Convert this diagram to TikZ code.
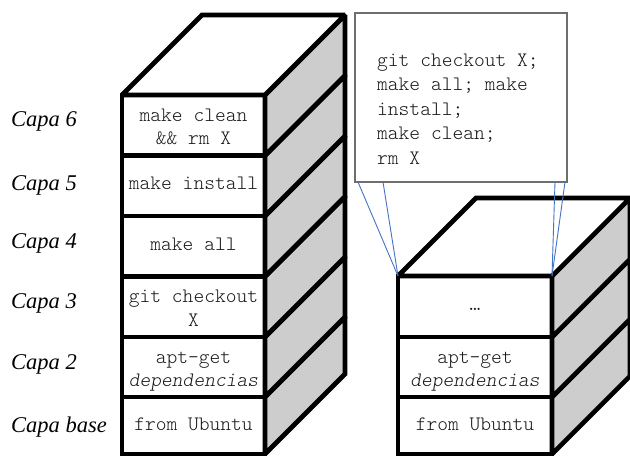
\documentclass[tikz,border=0pt]{standalone}
\usepackage{fontspec}
\setmainfont{Liberation Serif}
\definecolor{sidegray}{RGB}{205,205,205}
\definecolor{notegray}{RGB}{110,110,110}
\definecolor{linkblue}{RGB}{68,114,196}
\definecolor{inkgray}{RGB}{25,25,25}
\newcommand{\codefont}{\ttfamily\fontseries{l}\fontsize{20.5}{23.5}\selectfont}
% invisible struts: total height #1 above the baseline, fixed depth below it
\newcommand{\padtop}[1]{\rule{0pt}{#1}}
\newcommand{\padbot}{\rule[-4.5pt]{0pt}{4.5pt}}
\begin{document}
\begin{tikzpicture}[x=1pt,y=-1pt,
  heavy/.style={draw=black, line width=4.6pt, line join=miter, miter limit=2},
  slab/.style={heavy, fill=white, inner sep=0pt, outer sep=0pt, align=center,
    text=inkgray, font=\codefont},
  slabL/.style={slab, minimum width=143pt},
  slabR/.style={slab, minimum width=154pt},
  sideface/.style={heavy, fill=sidegray},
  topface/.style={heavy, fill=white},
  layername/.style={anchor=west, inner sep=0pt, font=\itshape\fontsize{22.5}{27}\selectfont},
  note/.style={draw=notegray, line width=2pt, fill=white, minimum width=212pt,
    minimum height=169pt, inner sep=0pt, outer sep=0pt},
  notetext/.style={anchor=north west, inner sep=0pt, align=left, text=inkgray,
    font=\codefont\fontsize{20.5}{24.5}\selectfont},
  link/.style={draw=linkblue, line width=0.9pt}
]
\useasboundingbox (0,0) rectangle (630,457);

% ---- left stack: six layers ----
\node[slabL, minimum height=57pt]   (L1) at (193.5,425.5)  {\padtop{15pt}from Ubuntu\padbot};
\node[slabL, minimum height=60pt]   (L2) at (193.5,367)    {\padtop{20.3pt}apt-get\\\textit{dependencias}\padbot};
\node[slabL, minimum height=60.5pt] (L3) at (193.5,306.75) {\padtop{20.3pt}git checkout\\X\padbot};
\node[slabL, minimum height=60.5pt] (L4) at (193.5,246.25) {\padtop{12.5pt}make all\padbot};
\node[slabL, minimum height=60.5pt] (L5) at (193.5,185.75) {\padtop{12.5pt}make install\padbot};
\node[slabL, minimum height=60.5pt] (L6) at (193.5,125.25) {\padtop{20.3pt}make clean\\\&\& rm X\padbot};
\foreach \n in {L1,L2,L3,L4,L5,L6}{
  \draw[sideface] (\n.north east) -- ([shift={(80,-80)}]\n.north east)
    -- ([shift={(80,-80)}]\n.south east) -- (\n.south east) -- cycle;
}
\draw[topface] (L6.north west) -- ([shift={(80,-80)}]L6.north west)
  -- ([shift={(80,-80)}]L6.north east) -- (L6.north east) -- cycle;

% ---- layer names ----
\node[layername] (c6) at (11,121.5) {Capa 6};
\node[layername] (c5) at (11,185)   {Capa 5};
\node[layername] (c4) at (11,243.5) {Capa 4};
\node[layername] (c3) at (11,303.5) {Capa 3};
\node[layername] (c2) at (11,364.5) {Capa 2};
\node[layername] (c1) at (11,427.5) {Capa base};

% ---- right stack: three layers ----
\node[slabR, minimum height=57pt] (R1) at (475,425.5) {\padtop{15pt}from Ubuntu\padbot};
\node[slabR, minimum height=60pt] (R2) at (475,367)   {\padtop{20.3pt}apt-get\\\textit{dependencias}\padbot};
\node[slabR, minimum height=61pt] (R3) at (475,306.5) {\padtop{12.5pt}\ldots\padbot};
\foreach \n in {R1,R2,R3}{
  \draw[sideface] (\n.north east) -- ([shift={(78,-78)}]\n.north east)
    -- ([shift={(78,-78)}]\n.south east) -- (\n.south east) -- cycle;
}
\draw[topface] (R3.north west) -- ([shift={(78,-78)}]R3.north west)
  -- ([shift={(78,-78)}]R3.north east) -- (R3.north east) -- cycle;

% ---- note with the collapsed commands ----
\node[note] (note) at (461,97.5) {};
\node[notetext] (notetxt) at (377,53.5) {git checkout X;\\make all; make\\install;\\make clean;\\rm X};

\coordinate (n1) at ([xshift=3pt]note.south west);
\coordinate (n2) at ([xshift=28pt]note.south west);
\coordinate (n3) at ([xshift=-12pt]note.south east);
\coordinate (n4) at ([xshift=-2pt]note.south east);
\draw[link] (n1) -- (R3.north west);
\draw[link] (n2) -- (R3.north west);
\draw[link] (n3) -- (R3.north east);
\draw[link] (n4) -- (R3.north east);
\end{tikzpicture}
\end{document}
